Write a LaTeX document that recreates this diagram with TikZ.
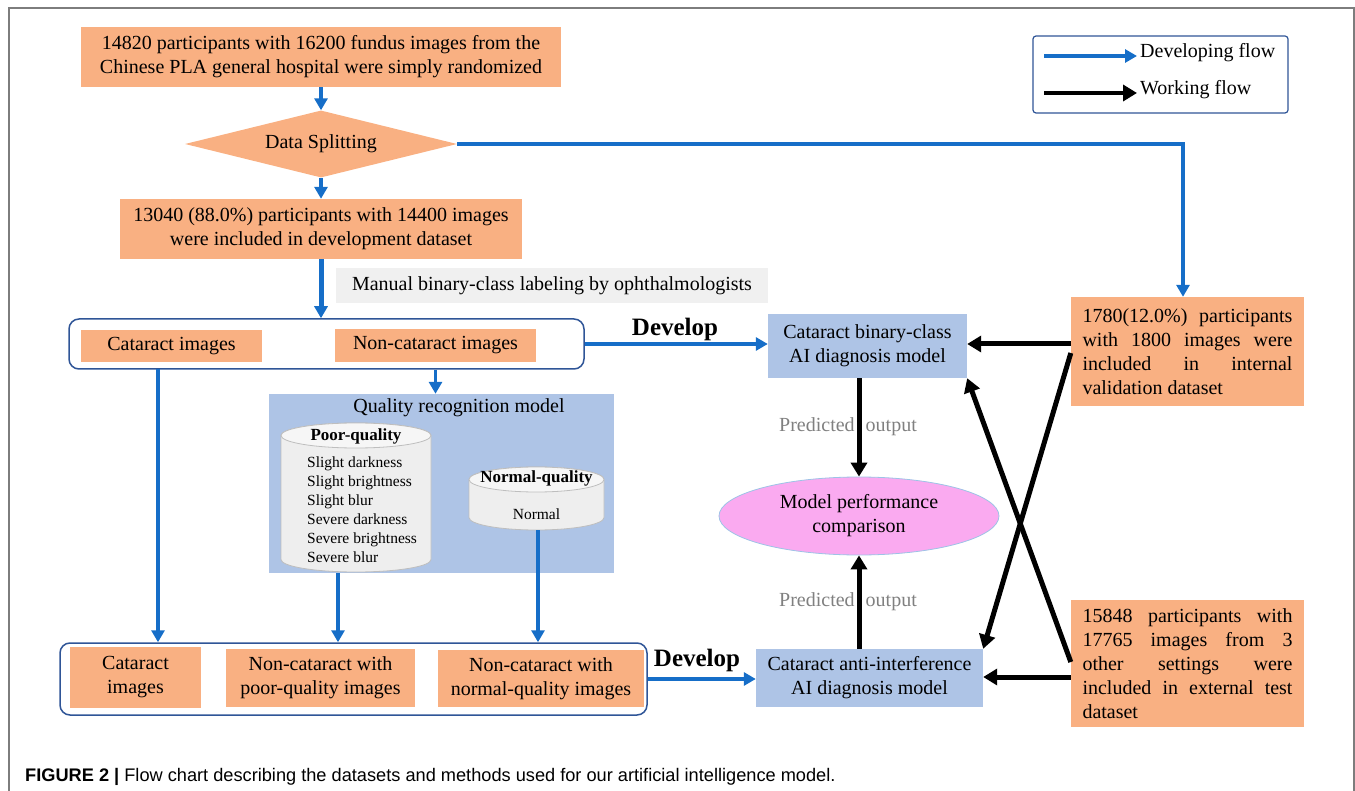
\documentclass[tikz,border=0pt]{standalone}
\usepackage{fontspec}
\setmainfont{Liberation Serif}
\newfontfamily\capfont{Liberation Sans}
\usetikzlibrary{arrows.meta,shapes.geometric}
\definecolor{orng}{RGB}{249,176,130}
\definecolor{lblue}{RGB}{174,196,230}
\definecolor{arrblue}{RGB}{22,110,200}
\definecolor{pinkf}{RGB}{250,170,240}
\definecolor{ellblue}{RGB}{157,195,230}
\definecolor{grpblue}{RGB}{47,85,151}
\definecolor{lblgray}{RGB}{240,240,240}
\definecolor{predgray}{RGB}{128,128,128}
\definecolor{framegray}{RGB}{125,125,125}
\definecolor{cylfill}{RGB}{238,238,238}
\definecolor{cyltop}{RGB}{246,246,246}
\definecolor{cyledge}{RGB}{190,190,190}
\begin{document}
\begin{tikzpicture}[x=1pt,y=-1pt,
  every node/.style={font=\fontsize{20}{24}\selectfont, inner sep=0pt},
  obox/.style 2 args={fill=orng, minimum width=#1, minimum height=#2, align=center},
  bbox/.style 2 args={fill=lblue, minimum width=#1, minimum height=#2, align=center},
  grp/.style 2 args={draw=grpblue, line width=1.5pt, rounded corners=10pt, minimum width=#1, minimum height=#2},
  barr/.style={draw=arrblue, line width=3.5pt, -{Triangle[length=12pt,width=13pt]}},
  karr/.style={draw=black, line width=5pt, -{Triangle[length=14pt,width=16pt]}},
  cyl/.style={fill=cylfill, draw=cyledge, line width=0.8pt},
  cyltopst/.style={fill=cyltop, draw=cyledge, line width=0.8pt},
  devlab/.style={font=\bfseries\fontsize{25}{30}\selectfont},
  predlab/.style={text=predgray},
  cyltitle/.style={font=\bfseries\fontsize{17}{20}\selectfont},
  cyltext/.style={font=\fontsize{15.5}{19}\selectfont, align=left}]
\useasboundingbox (0,0) rectangle (1355,791);
% frame
\draw[framegray, line width=1.2pt] (9,791) -- (9,8) -- (1354,8) -- (1354,791);

% top flow
\node[obox={480pt}{60pt}] (src) at (321,57) {14820 participants with 16200 fundus images from the\\Chinese PLA general hospital were simply randomized};
\node[diamond, fill=orng, aspect=4, minimum width=272pt, minimum height=67pt] (split) at (321,144) {Data Splitting};
\node[obox={402pt}{60pt}] (dev) at (321,229) {13040 (88.0\%) participants with 14400 images\\were included in development dataset};
\node[fill=lblgray, minimum width=432pt, minimum height=35pt] (lab) at (552,285.5) {Manual binary-class labeling by ophthalmologists};

% group 1
\node[grp={515pt}{50pt}] (g1) at (326.5,344) {};
\node[obox={181pt}{32pt}] (cat1) at (171.5,346) {Cataract images};
\node[obox={201pt}{33pt}] (ncat1) at (435.5,345.5) {Non-cataract images};

% quality recognition model
\node[fill=lblue, minimum width=345pt, minimum height=179pt] (qbox) at (441.5,483.5) {};
\node (qtitle) at (459,408) {Quality recognition model};
% poor-quality cylinder
\node[minimum width=150pt, minimum height=149pt] (poor) at (356,497.5) {};
\path[cyl] (281,435.5) -- (281,559.5) arc[start angle=180,end angle=360,x radius=75pt,y radius=12.5pt] -- (431,435.5) arc[start angle=0,end angle=180,x radius=75pt,y radius=12.5pt] -- cycle;
\path[cyltopst] (356,435.5) ellipse[x radius=75pt,y radius=12.5pt];
\node[cyltitle] (poort) at (356,436) {Poor-quality};
\node[cyltext, anchor=west] (poorl) at (307,510) {Slight darkness\\Slight brightness\\Slight blur\\Severe darkness\\Severe brightness\\Severe blur};
% normal-quality cylinder
\node[minimum width=135pt, minimum height=63pt] (normal) at (536.5,498.5) {};
\path[cyl] (469,479.5) -- (469,517.5) arc[start angle=180,end angle=360,x radius=67.5pt,y radius=12.5pt] -- (604,479.5) arc[start angle=0,end angle=180,x radius=67.5pt,y radius=12.5pt] -- cycle;
\path[cyltopst] (536.5,479.5) ellipse[x radius=67.5pt,y radius=12.5pt];
\node[cyltitle] (normt) at (536.5,478) {Normal-quality};
\node[font=\fontsize{15.5}{19}\selectfont] (norml) at (536.5,514) {Normal};

% group 2
\node[grp={587pt}{72pt}] (g2) at (353.5,679) {};
\node[obox={131pt}{61pt}] (cat2) at (135.5,677.5) {Cataract\\images};
\node[obox={189pt}{58pt}] (pq) at (320.5,678) {Non-cataract with\\poor-quality images};
\node[obox={206pt}{57pt}] (nq) at (541,678.5) {Non-cataract with\\normal-quality images};

% models
\node[bbox={199pt}{64pt}] (bc) at (867.5,346) {Cataract binary-class\\AI diagnosis model};
\node[ellipse, fill=pinkf, draw=ellblue, line width=0.8pt, minimum width=280pt, minimum height=78pt, align=center] (mpc) at (859,516) {Model performance\\comparison};
\node[bbox={227pt}{58pt}] (ai) at (869.5,678) {Cataract anti-interference\\AI diagnosis model};

% right data boxes
\node[obox={233pt}{109pt}, align=left] (val) at (1187.5,351.5) {\makebox[210pt][s]{1780(12.0\%) participants}\\\makebox[210pt][s]{with 1800 images were}\\\makebox[210pt][s]{included in internal}\\validation dataset};
\node[obox={233pt}{127pt}, align=left] (ext) at (1187.5,663.5) {\makebox[210pt][s]{15848 participants with}\\\makebox[210pt][s]{17765 images from 3}\\\makebox[210pt][s]{other settings were}\\\makebox[210pt][s]{included in external test}\\dataset};

% labels
\node[devlab] (dev1) at (675,329) {Develop};
\node[devlab] (dev2) at (697,660) {Develop};
\node[predlab] (po1) at (848,427) {Predicted\hspace{11pt}output};
\node[predlab] (po2) at (848,602) {Predicted\hspace{11pt}output};

% blue (developing) arrows
\draw[barr] (src.south) -- (split.north);
\draw[barr] (split.south) -- (dev.north);
\draw[barr, line width=5pt] (dev.south) -- (dev.south |- g1.north);
\draw[barr] (split.east) -| ([xshift=-4.5pt]val.north);
\draw[barr] (g1.east) -- (g1.east -| bc.west);
\draw[barr] (ncat1.south |- g1.south) -- (ncat1.south |- qbox.north);
\coordinate (c1) at (158,369);
\draw[barr] (c1) -- (c1 |- g2.north);
\coordinate (p1) at (338,573);
\draw[barr] (p1) -- (p1 |- g2.north);
\coordinate (n1) at (538,530);
\draw[barr] (n1) -- (n1 |- g2.north);
\draw[barr] (g2.east) -- (g2.east -| ai.west);

% black (working) arrows
\draw[karr] (bc.south -| mpc.north) -- (mpc.north);
\draw[karr] (ai.north -| mpc.south) -- (mpc.south);
\draw[karr] ([yshift=7.5pt]val.west) -- ([yshift=7.5pt]val.west -| bc.east);
\draw[karr] ([yshift=-13.5pt]ext.west) -- ([yshift=-13.5pt]ext.west -| ai.east);
\draw[karr] ([yshift=-1.5pt]val.west) -- (ai.north east);
\draw[karr] ([yshift=1.5pt]ext.west) -- (bc.south east);

% legend
\node[draw=grpblue, line width=1.2pt, rounded corners=3pt, minimum width=255pt, minimum height=77pt] (leg) at (1160.5,74.5) {};
\coordinate (l1a) at (1044,56);
\coordinate (l1b) at (1137,56);
\coordinate (l2a) at (1044,93);
\coordinate (l2b) at (1137,93);
\draw[barr] (l1a) -- (l1b);
\draw[karr, line width=4pt] (l2a) -- (l2b);
\node[anchor=west] (lt1) at (1140,53) {Developing flow};
\node[anchor=west] (lt2) at (1140,90) {Working flow};

% caption
\node[anchor=base west, font=\capfont\fontsize{18.2}{22}\selectfont] (cap) at (25,781) {\textbf{FIGURE 2 |} Flow chart describing the datasets and methods used for our artificial intelligence model.};
\end{tikzpicture}
\end{document}
